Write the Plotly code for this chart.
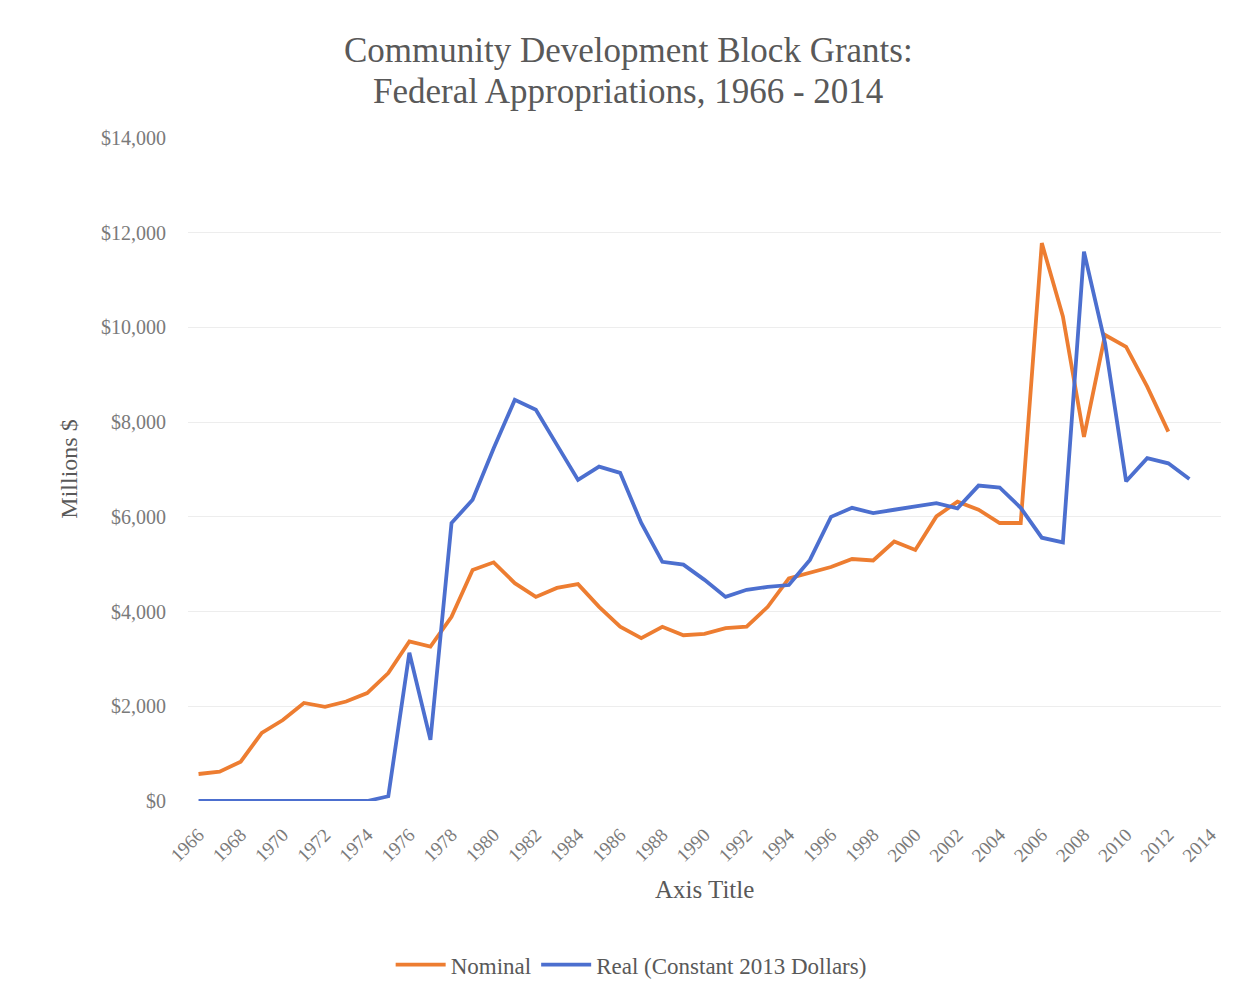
import plotly.graph_objects as go

years = list(range(1966, 2015))
nominal_years = list(range(1966, 2013))
nominal = [570, 620, 830, 1440, 1710, 2070, 1990, 2100, 2280, 2700,
           3370, 3260, 3890, 4880, 5040, 4600, 4310, 4500, 4580, 4100,
           3680, 3440, 3680, 3500, 3530, 3650, 3680, 4100, 4700, 4820,
           4940, 5110, 5080, 5480, 5300, 6010, 6320, 6150, 5870, 5870,
           11780, 10230, 7690, 9840, 9590, 8750, 7800]
real_years = list(range(1966, 2014))
real = [0, 0, 0, 0, 0, 0, 0, 0, 0, 100,
        3130, 1290, 5870, 6360, 7450, 8470, 8260, 7520, 6780, 7060,
        6930, 5870, 5050, 4990, 4670, 4310, 4460, 4520, 4560, 5090,
        6000, 6190, 6080, 6150, 6230, 6290, 6180, 6660, 6620, 6190,
        5560, 5460, 11600, 9670, 6750, 7240, 7130, 6800]
tick_years = list(range(1966, 2015, 2))
title_lines = ["Community Development Block Grants:", "Federal Appropriations, 1966 - 2014"]

SERIF = "Liberation Serif, Times New Roman, serif"
GRAY = "#7a7a7a"
DARK = "#595959"

fig = go.Figure()
fig.add_trace(go.Scatter(x=nominal_years, y=nominal, mode="lines", name="Nominal",
                         line=dict(color="#ED7D31", width=3.8)))
fig.add_trace(go.Scatter(x=real_years, y=real, mode="lines", name="Real (Constant 2013 Dollars)",
                         line=dict(color="#4C6FCF", width=3.8)))

fig.update_layout(
    width=1240, height=999,
    paper_bgcolor="white", plot_bgcolor="white",
    margin=dict(l=188, r=19, t=138, b=198),
    font=dict(family=SERIF, color=GRAY),
    showlegend=True,
    legend=dict(orientation="h", x=0.429, xanchor="center", y=-0.247, yanchor="middle",
                font=dict(family=SERIF, size=23, color=DARK), itemwidth=50,
                traceorder="normal"),
    xaxis=dict(range=[1965.5, 2014.5], tickmode="array", tickvals=tick_years,
               ticktext=[str(y) for y in tick_years], tickangle=-45,
               showgrid=False, zeroline=False, showline=False, ticklabelstandoff=18,
               tickfont=dict(family=SERIF, size=19, color=GRAY)),
    yaxis=dict(range=[0, 14000], dtick=2000, tickprefix="$", tickformat=",d",
               showgrid=True, gridcolor="#EDEDED", gridwidth=1, zeroline=False,
               showline=False, ticklabelstandoff=21,
               tickfont=dict(family=SERIF, size=20, color=GRAY)),
    annotations=[
        dict(text=title_lines[0], xref="paper", yref="paper", x=0.426, y=1.1327,
             xanchor="center", yanchor="middle", showarrow=False,
             font=dict(family=SERIF, size=35, color=DARK)),
        dict(text=title_lines[1], xref="paper", yref="paper", x=0.426, y=1.0694,
             xanchor="center", yanchor="middle", showarrow=False,
             font=dict(family=SERIF, size=35, color=DARK)),
        dict(text="Axis Title", xref="paper", yref="paper", x=0.5, y=-0.134,
             xanchor="center", yanchor="middle", showarrow=False,
             font=dict(family=SERIF, size=25, color=DARK)),
        dict(text="Millions $", xref="paper", yref="paper", x=-0.116, y=0.5,
             xanchor="center", yanchor="middle", showarrow=False, textangle=-90,
             font=dict(family=SERIF, size=24, color=DARK)),
    ],
)

fig.write_html("out.html")
